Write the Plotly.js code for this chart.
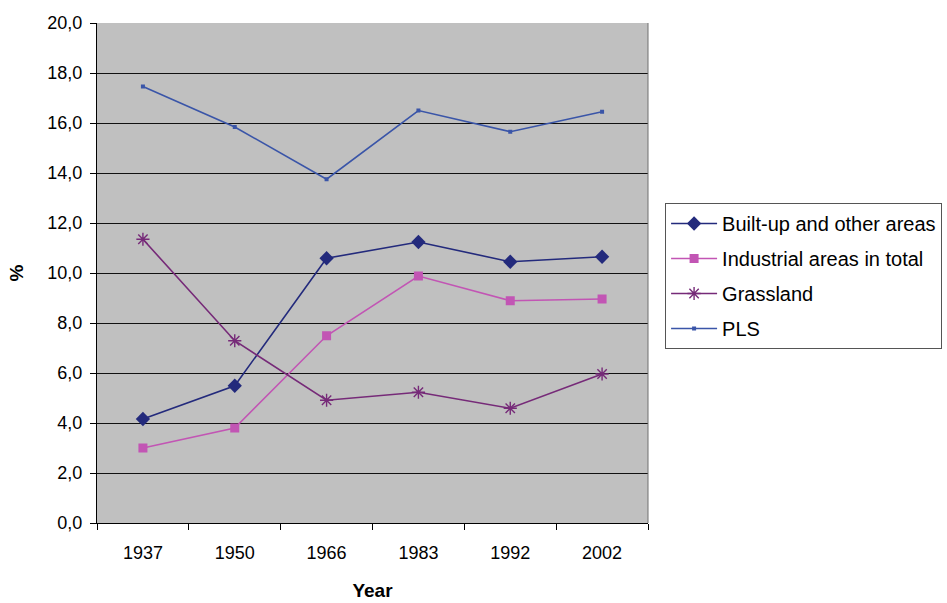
<!DOCTYPE html>
<html>
<head>
<meta charset="utf-8">
<script src="https://cdn.plot.ly/plotly-3.0.1.min.js"></script>
<style>
  html, body { margin: 0; padding: 0; background: #ffffff; }
  #chart { width: 947px; height: 603px; }
</style>
</head>
<body>
<div id="chart"></div>
<script>
// Land-use shares (%) by survey year
const years = ["1937", "1950", "1966", "1983", "1992", "2002"];
const builtUp = [4.16, 5.49, 10.59, 11.24, 10.45, 10.65];
const industrial = [3.0, 3.8, 7.49, 9.88, 8.89, 8.96];
const grassland = [11.35, 7.29, 4.91, 5.23, 4.59, 5.96];
const pls = [17.46, 15.84, 13.75, 16.5, 15.65, 16.45];

const seriesNames = ["Built-up and other areas", "Industrial areas in total", "Grassland", "PLS"];

function series(name, values, color, symbol, size, group) {
  return {
    type: "scatter",
    mode: "lines+markers",
    name: name,
    x: years,
    y: values,
    legendgroup: group,
    line: { color: color, width: 1.6 },
    marker: {
      color: color,
      symbol: symbol,
      size: size,
      line: { color: color, width: symbol === "asterisk-open" ? 1.4 : 0 }
    }
  };
}

const traces = [
  series(seriesNames[0], builtUp, "#232a7c", "diamond", 11, "a"),
  series(seriesNames[1], industrial, "#c255b4", "square", 9, "b"),
  series(seriesNames[2], grassland, "#762a78", "asterisk-open", 11, "c"),
  series(seriesNames[3], pls, "#3a55a8", "square", 4, "d")
];

const layout = {
  width: 947,
  height: 603,
  margin: { l: 97, r: 299, t: 23, b: 80, autoexpand: false },
  paper_bgcolor: "#ffffff",
  plot_bgcolor: "#c0c0c0",
  separators: ",.",
  font: { family: "Liberation Sans, Arial, sans-serif", size: 18, color: "#000000" },
  showlegend: true,
  legend: {
    x: 1.031,
    xanchor: "left",
    y: 0.64,
    yanchor: "top",
    bgcolor: "#ffffff",
    bordercolor: "#555555",
    borderwidth: 1,
    font: { size: 20, color: "#000000" },
    tracegroupgap: 6,
    itemwidth: 46
  },
  xaxis: {
    type: "category",
    range: [-0.5, 5.5],
    autorange: false,
    tickson: "boundaries",
    ticks: "outside",
    ticklen: 6,
    tickcolor: "#000000",
    showline: true,
    linecolor: "#000000",
    linewidth: 1,
    showgrid: false,
    tickfont: { size: 18 },
    ticklabelstandoff: 13,
    title: { text: "<b>Year</b>", font: { size: 19 }, standoff: 22 }
  },
  yaxis: {
    range: [0, 20],
    dtick: 2,
    tick0: 0,
    tickformat: ".1f",
    ticks: "outside",
    ticklen: 6,
    tickcolor: "#000000",
    showline: true,
    linecolor: "#000000",
    linewidth: 1,
    showgrid: true,
    gridcolor: "#111111",
    gridwidth: 1,
    zeroline: false,
    tickfont: { size: 18 },
    ticklabelstandoff: 4,
    title: { text: "<b>%</b>", font: { size: 19 }, standoff: 18 }
  },
  shapes: [
    {
      type: "line", xref: "paper", yref: "paper",
      x0: 1, x1: 1, y0: 0, y1: 1,
      line: { color: "#707070", width: 1 }
    }
  ]
};

Plotly.newPlot("chart", traces, layout, { displayModeBar: false, staticPlot: true });
</script>
</body>
</html>
